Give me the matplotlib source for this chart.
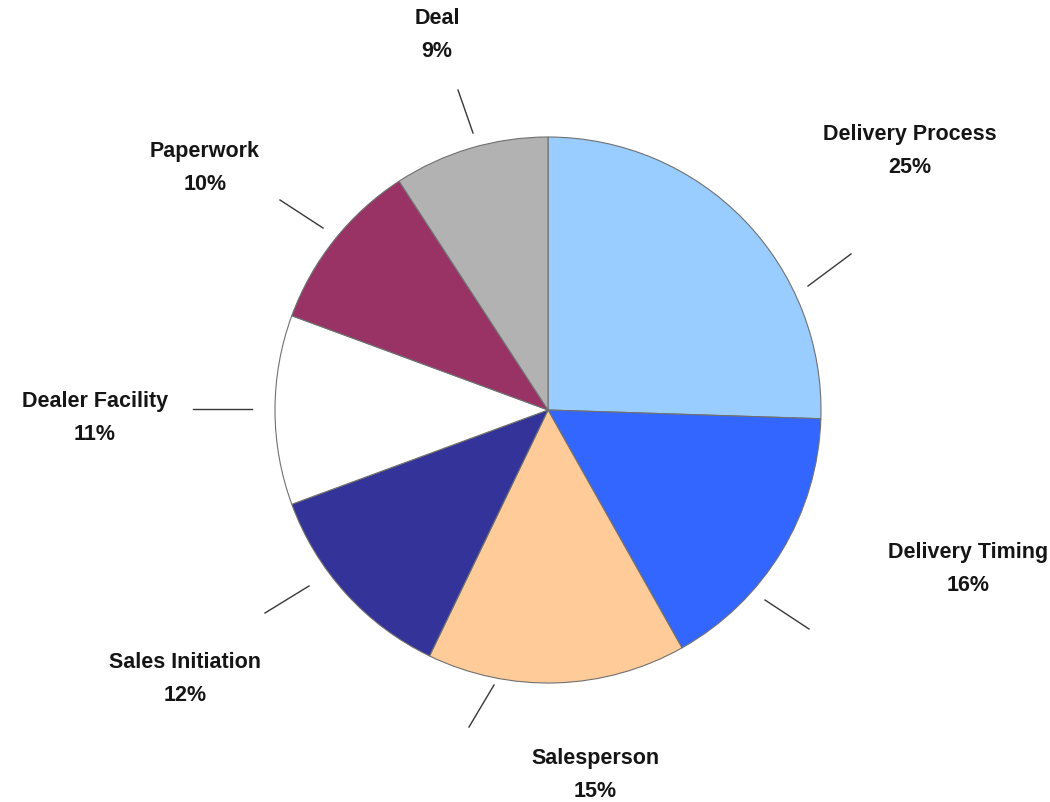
import matplotlib.pyplot as plt

# dati della torta (senso orario partendo dall'alto)
categories = ["Delivery Process", "Delivery Timing", "Salesperson", "Sales Initiation",
              "Dealer Facility", "Paperwork", "Deal"]
shares = [25, 16, 15, 12, 11, 10, 9]
colors = ["#99CCFF", "#3366FF", "#FFCC99", "#333399", "#FFFFFF", "#993366", "#B2B2B2"]

# layout in pixel (origine in basso a sinistra)
W, H = 1050, 802
cx, cy, R = 548, H - 410, 273
label_xy = [(910, H - 151), (968, H - 569), (595, H - 775), (185, H - 679),
            (95, H - 418), (205, H - 168), (437, H - 35)]
# linee guida: offset (inizio, fine) dal centro della torta, in pixel
leaders = [((260, 124), (303, 156)), ((217, -190), (261, -219)),
           ((-54, -275), (-79, -317)), ((-239, -176), (-283, -203)),
           ((-296, 1), (-355, 1)), ((-225, 182), (-268, 210)),
           ((-75, 277), (-90, 320))]

fig = plt.figure(figsize=(W / 100, H / 100), dpi=100)
ax = fig.add_axes([0, 0, 1, 1])
ax.pie(shares, colors=colors, startangle=90, counterclock=False,
       center=(cx, cy), radius=R,
       wedgeprops=dict(edgecolor="#707070", linewidth=0.8))
ax.set_xlim(0, W)
ax.set_ylim(0, H)
ax.set_aspect("equal")
ax.axis("off")

for name, val, (lx, ly), (p1, p2) in zip(categories, shares, label_xy, leaders):
    ax.text(lx, ly, f"{name}\n{val}%", ha="center", va="center",
            fontsize=15.5, fontweight="bold", family="Liberation Sans",
            color="#151515", linespacing=1.8)
    ax.plot([cx + p1[0], cx + p2[0]], [cy + p1[1], cy + p2[1]],
            color="#383838", linewidth=1.0)

fig.savefig("out.png", dpi=100, facecolor="white")
